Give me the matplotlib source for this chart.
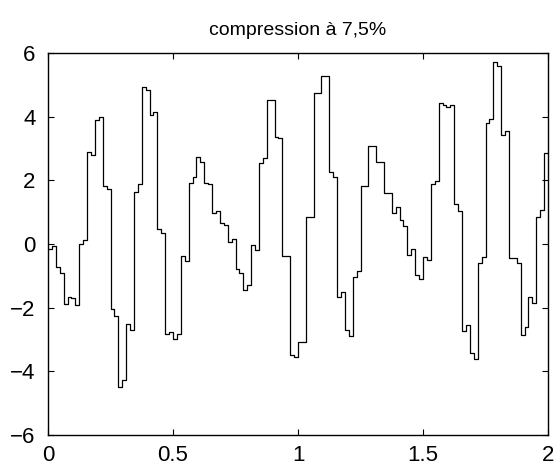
import numpy as np
import matplotlib
matplotlib.use("Agg")
import matplotlib.pyplot as plt

# signal compressé, un échantillon tous les 1/64 s
fs = 64
values = [
    -0.15, -0.05, -0.72, -0.9, -1.88, -1.68, -1.7, -1.92,
    0.0, 0.13, 2.88, 2.8, 3.9, 3.98, 1.83, 1.73,
    -2.05, -2.26, -4.48, -4.27, -2.5, -2.7, 1.64, 1.88,
    4.92, 4.84, 4.04, 4.16, 0.46, 0.36, -2.84, -2.75,
    -2.97, -2.82, -0.38, -0.52, 1.93, 2.12, 2.74, 2.59,
    1.91, 1.87, 0.96, 1.05, 0.65, 0.6, 0.07, 0.15,
    -0.8, -0.92, -1.45, -1.29, -0.03, -0.19, 2.53, 2.69,
    4.52, 4.52, 3.37, 3.32, -0.38, -0.38, -3.49, -3.54,
    -3.07, -3.07, 0.84, 0.84, 4.75, 4.75, 5.29, 5.27,
    2.27, 2.09, -1.65, -1.5, -2.7, -2.88, -1.05, -0.84,
    1.82, 1.82, 3.08, 3.08, 2.58, 2.58, 1.59, 1.59,
    0.96, 1.15, 0.75, 0.57, -0.35, -0.15, -0.97, -1.1,
    -0.42, -0.5, 1.88, 1.99, 4.44, 4.37, 4.3, 4.37,
    1.26, 1.05, -2.72, -2.54, -3.41, -3.61, -0.59, -0.4,
    3.79, 3.92, 5.71, 5.6, 3.42, 3.56, -0.45, -0.45,
    -0.59, -2.86, -2.62, -1.65, -1.86, 0.86, 1.07, 2.85,
]
title = "compression à 7,5%"
xticks = [0, 0.5, 1, 1.5, 2]
yticks = [-6, -4, -2, 0, 2, 4, 6]

t = np.arange(len(values)) / fs
t = np.append(t, 2.0)
y = np.append(values, values[-1])

plt.rcParams['font.family'] = ['Liberation Sans', 'DejaVu Sans']

fig = plt.figure(figsize=(5.57, 4.74), dpi=100)
ax = fig.add_axes([48 / 557, 1 - 435 / 474, 500 / 557, 382 / 474])
ax.plot(t, y, drawstyle='steps-post', color='black', linewidth=0.9)

ax.set_xlim(0, 2)
ax.set_ylim(-6, 6)
ax.set_xticks(xticks)
ax.set_xticklabels(['0', '0.5', '1', '1.5', '2'])
ax.set_yticks(yticks)
ax.tick_params(direction='in', top=True, right=True, labelsize=16, length=4, width=0.8)
ax.tick_params(axis='y', pad=9)
ax.tick_params(axis='x', pad=7)
for s in ax.spines.values():
    s.set_linewidth(1.0)
ax.set_title(title, fontsize=14, pad=13)

fig.savefig("out.png", dpi=100)
